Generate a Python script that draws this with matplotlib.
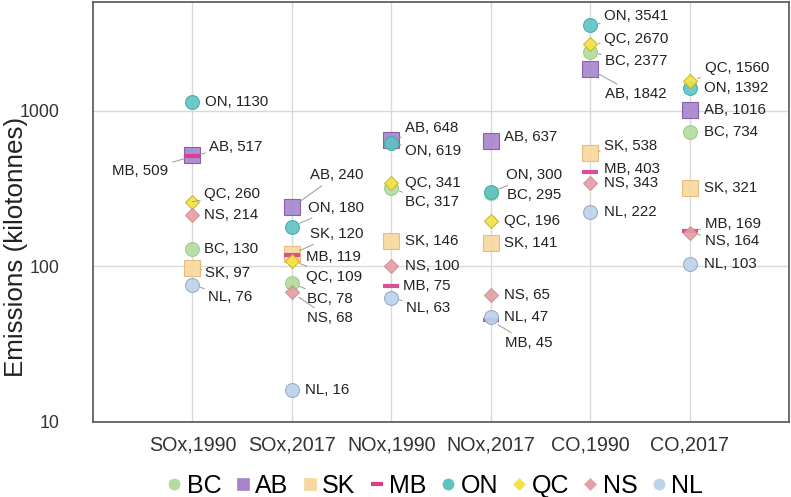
import matplotlib.pyplot as plt
from matplotlib.lines import Line2D

plt.rcParams['font.family'] = ['Liberation Sans', 'DejaVu Sans']

categories = ['SOx,1990', 'SOx,2017', 'NOx,1990', 'NOx,2017', 'CO,1990', 'CO,2017']
provinces = ['BC', 'AB', 'SK', 'MB', 'ON', 'QC', 'NS', 'NL']

BC = [130, 78, 317, 295, 2377, 734]
AB = [517, 240, 648, 637, 1842, 1016]
SK = [97, 120, 146, 141, 538, 321]
MB = [509, 119, 75, 45, 403, 169]
ON = [1130, 180, 619, 300, 3541, 1392]
QC = [260, 109, 341, 196, 2670, 1560]
NS = [214, 68, 100, 65, 343, 164]
NL = [76, 16, 63, 47, 222, 103]
values = {'BC': BC, 'AB': AB, 'SK': SK, 'MB': MB, 'ON': ON, 'QC': QC, 'NS': NS, 'NL': NL}

# marker styles: (marker, size, face, edge)
styles = {
    'BC': ('o', 10, '#b2dc9e', '#9ccb88'),
    'AB': ('s', 11, '#a684cc', '#7d56a8'),
    'SK': ('s', 11, '#f8d89c', '#e3b878'),
    'MB': ('_', 11, '#d93c8c', '#d93c8c'),
    'ON': ('o', 10, '#5ec3c3', '#45aaaa'),
    'QC': ('D', 7.5, '#f3e246', '#c9b41c'),
    'NS': ('D', 7.5, '#e2a0a4', '#d08c90'),
    'NL': ('o', 10, '#bcd3ec', '#8fa8c4'),
}

# label offsets in pixels (dx, dy), dy positive = down
offsets = {
    (0, 'ON'): (13, 0), (0, 'AB'): (17, -8), (0, 'MB'): (-24, 15), (0, 'QC'): (12, -8),
    (0, 'NS'): (12, 0), (0, 'BC'): (12, 0), (0, 'SK'): (13, 5), (0, 'NL'): (16, 12),
    (1, 'AB'): (18, -32), (1, 'ON'): (16, -19), (1, 'SK'): (18, -20), (1, 'MB'): (14, 2),
    (1, 'QC'): (14, 16), (1, 'BC'): (15, 16), (1, 'NS'): (15, 26), (1, 'NL'): (13, 0),
    (2, 'AB'): (14, -12), (2, 'ON'): (14, 8), (2, 'QC'): (14, 0), (2, 'BC'): (14, 14),
    (2, 'SK'): (14, 0), (2, 'NS'): (14, 0), (2, 'MB'): (12, 0), (2, 'NL'): (15, 10),
    (3, 'AB'): (13, -4), (3, 'ON'): (15, -17), (3, 'BC'): (16, 2), (3, 'QC'): (13, 0),
    (3, 'SK'): (13, 0), (3, 'NS'): (13, 0), (3, 'NL'): (13, 0), (3, 'MB'): (14, 23),
    (4, 'ON'): (14, -9), (4, 'QC'): (14, -5), (4, 'BC'): (15, 9), (4, 'AB'): (15, 25),
    (4, 'SK'): (14, -7), (4, 'MB'): (14, -3), (4, 'NS'): (14, 0), (4, 'NL'): (14, 0),
    (5, 'QC'): (15, -13), (5, 'ON'): (14, 0), (5, 'AB'): (14, 0), (5, 'BC'): (14, 0),
    (5, 'SK'): (14, 0), (5, 'MB'): (15, -7), (5, 'NS'): (15, 8), (5, 'NL'): (14, 0),
}

fig = plt.figure(figsize=(7.91, 4.97), dpi=100)
ax = fig.add_axes([0.1176, 0.151, 0.88, 0.845])

x = list(range(1, len(categories) + 1))
for p in provinces:
    m, ms, fc, ec = styles[p]
    mew = 3 if m == '_' else 0.8
    ax.plot(x, values[p], linestyle='none', marker=m, markersize=ms, markerfacecolor=fc,
            markeredgecolor=ec, markeredgewidth=mew, alpha=0.9, zorder=3)

for i in range(len(categories)):
    for p in provinces:
        v = values[p][i]
        dx, dy = offsets[(i, p)]
        ha = 'right' if dx < 0 else 'left'
        arrow = None
        if abs(dy) >= 5:
            arrow = dict(arrowstyle='-', color='#9a9a9a', lw=0.7, shrinkA=1, shrinkB=6)
        ax.annotate(f'{p}, {v}', xy=(x[i], v), xytext=(dx, -dy), textcoords='offset pixels',
                    ha=ha, va='center', fontsize=10.8, color='#222222', arrowprops=arrow, zorder=4)

ax.set_yscale('log')
ax.set_ylim(10, 5000)
ax.set_xlim(0, 7)
ax.set_xticks(x)
ax.set_xticklabels(categories, fontsize=14.2, color='#333333')
ax.set_yticks([10, 100, 1000])
ax.set_yticklabels(['10', '100', '1000'], fontsize=12.8, color='#333333')
ax.minorticks_off()
ax.tick_params(axis='x', length=0, pad=10)
ax.tick_params(axis='y', length=0, pad=24)
ax.grid(True, color='#d9d9d9', lw=1, zorder=0)
ax.set_axisbelow(True)
for s in ax.spines.values():
    s.set_color('#555555')
    s.set_linewidth(1.2)
ax.set_ylabel('Emissions (kilotonnes)', fontsize=18.7, color='#222222')
ax.yaxis.set_label_coords(-0.093, 0.417)

handles = []
for p in provinces:
    m, ms, fc, ec = styles[p]
    handles.append(Line2D([], [], linestyle='none', marker=m, markersize=ms * 0.8,
                          markerfacecolor=fc, markeredgecolor=fc,
                          markeredgewidth=3 if m == '_' else 0.5))
fig.legend(handles, provinces, loc='center', bbox_to_anchor=(0.55, 0.022), ncol=8,
           frameon=False, fontsize=18, handletextpad=0.2, columnspacing=0.55,
           handlelength=0.6)

fig.savefig('out.png', dpi=100)
